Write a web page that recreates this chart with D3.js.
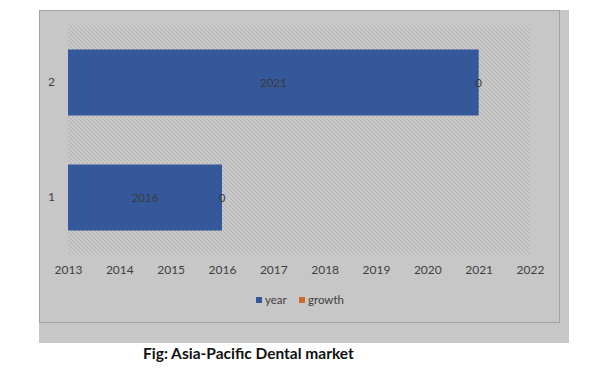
<!DOCTYPE html>
<html>
<head>
<meta charset="utf-8">
<script src="https://cdn.jsdelivr.net/npm/d3@7"></script>
<style>
  body { margin: 0; background: #fff; }
  text { font-family: Lato, "Open Sans", sans-serif; }
</style>
</head>
<body>
<div id="chart"></div>
<script>
const width = 598, height = 370;

// data
const categories = ["1", "2"];
const yearValues = [2016, 2021];
const growthValues = [0, 0];
const xTicks = [2013, 2014, 2015, 2016, 2017, 2018, 2019, 2020, 2021, 2022];
const seriesNames = ["year", "growth"];
const seriesColors = ["#34589a", "#cf6b2a"];

const rows = categories.map((c, i) => ({cat: c, year: yearValues[i], growth: growthValues[i]}));

const svg = d3.select("#chart").append("svg")
    .attr("width", width)
    .attr("height", height);

// grey chart background
svg.append("rect")
    .attr("x", 39).attr("y", 10)
    .attr("width", 530).attr("height", 333)
    .attr("fill", "#c7c7c7");
svg.append("rect")
    .attr("x", 39.5).attr("y", 10.5)
    .attr("width", 520).attr("height", 312)
    .attr("fill", "none")
    .attr("stroke", "#a2a2a2");

// hatch pattern for plot area
const defs = svg.append("defs");
const pat = defs.append("pattern")
    .attr("id", "hatch")
    .attr("patternUnits", "userSpaceOnUse")
    .attr("width", 4).attr("height", 4);
pat.append("rect").attr("width", 4).attr("height", 4).attr("fill", "#c9c9c9");
pat.append("path")
    .attr("d", "M-1,-1 L5,5 M-1,3 L1,5 M3,-1 L5,1")
    .attr("stroke", "#b0b0b0")
    .attr("stroke-width", 1);

const plot = {left: 68, right: 530, top: 25, bottom: 255};

svg.append("rect")
    .attr("x", plot.left).attr("y", plot.top)
    .attr("width", plot.right - plot.left)
    .attr("height", plot.bottom - plot.top)
    .attr("fill", "url(#hatch)");

const x = d3.scaleLinear()
    .domain([2013, 2022])
    .range([plot.left, plot.right]);

const y = d3.scaleBand()
    .domain(categories.slice().reverse())
    .range([plot.top, plot.bottom])
    .paddingInner(0.426)
    .paddingOuter(0.213);

const stacked = d3.stack().keys(seriesNames)(rows);

const layers = svg.append("g").selectAll("g")
    .data(stacked).enter()
    .append("g")
    .attr("fill", (d, i) => seriesColors[i]);

layers.selectAll("rect")
    .data(d => d).enter()
    .append("rect")
    .attr("x", d => x(Math.max(2013, d[0])))
    .attr("y", d => y(d.data.cat))
    .attr("width", d => Math.max(0, x(d[1]) - x(Math.max(2013, d[0]))))
    .attr("height", y.bandwidth());

// data labels, centred on each segment
layers.selectAll("text")
    .data(d => d.map(p => Object.assign(p, {key: d.key}))).enter()
    .append("text")
    .attr("x", d => (x(Math.max(2013, d[0])) + x(d[1])) / 2)
    .attr("y", d => y(d.data.cat) + y.bandwidth() / 2)
    .attr("dy", "0.35em")
    .attr("text-anchor", "middle")
    .attr("font-size", 11.5)
    .attr("fill", "#3a3a3a")
    .text(d => d.data[d.key]);

// x axis
const xAxis = svg.append("g")
    .attr("transform", "translate(0," + plot.bottom + ")")
    .call(d3.axisBottom(x).tickValues(xTicks).tickFormat(d3.format("d")).tickSize(0).tickPadding(10));
xAxis.select(".domain").remove();
xAxis.selectAll("text")
    .attr("font-size", 12)
    .attr("fill", "#404040")
    .style("font-family", "Lato, 'Open Sans', sans-serif");

// y axis
const yAxis = svg.append("g")
    .attr("transform", "translate(" + plot.left + ",0)")
    .call(d3.axisLeft(y).tickSize(0).tickPadding(13));
yAxis.select(".domain").remove();
yAxis.selectAll("text")
    .attr("font-size", 12)
    .attr("fill", "#404040")
    .style("font-family", "Lato, 'Open Sans', sans-serif");

// legend
const legendX = [256, 299];
const legend = svg.append("g").selectAll("g")
    .data(seriesNames).enter()
    .append("g")
    .attr("transform", (d, i) => "translate(" + legendX[i] + ",297)");
legend.append("rect")
    .attr("width", 6).attr("height", 6)
    .attr("fill", (d, i) => seriesColors[i]);
legend.append("text")
    .attr("x", 9).attr("y", 3)
    .attr("dy", "0.35em")
    .attr("font-size", 11.5)
    .attr("fill", "#404040")
    .text(d => d);

// caption
svg.append("text")
    .attr("x", 143).attr("y", 359)
    .attr("font-size", 15.5)
    .attr("font-weight", "bold")
    .attr("fill", "#111")
    .text("Fig: Asia-Pacific Dental market");
</script>
</body>
</html>
